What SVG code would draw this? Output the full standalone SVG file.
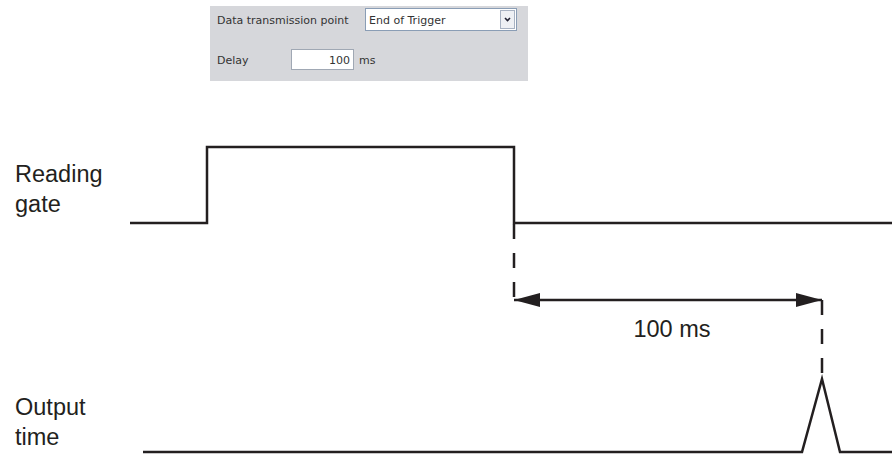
<svg xmlns="http://www.w3.org/2000/svg" width="892" height="457" viewBox="0 0 892 457">
<style>
.ui{font-family:"DejaVu Sans","Liberation Sans",sans-serif;font-size:11px;fill:#333}
.lbl{font-family:"Liberation Sans",Arial,sans-serif;font-size:23.5px;fill:#231f20}
.sig{fill:none;stroke:#231f20;stroke-width:2.5;stroke-linejoin:miter}
.dash{fill:none;stroke:#231f20;stroke-width:2.5;stroke-dasharray:15 14}
</style>
<defs>
<marker id="ah" viewBox="0 0 26 14" refX="26" refY="7" markerWidth="26" markerHeight="14" markerUnits="userSpaceOnUse" orient="auto-start-reverse">
<path d="M0,0 L26,7 L0,14 Z" fill="#231f20"/>
</marker>
</defs>
<rect width="892" height="457" fill="#fff"/>
<g id="panel">
<rect x="210" y="6" width="318" height="75" fill="#d6d7db"/>
<text class="ui" x="217" y="24">Data transmission point</text>
<rect x="365.5" y="8.5" width="151" height="22" fill="#fff" stroke="#8a9db5"/>
<text class="ui" x="369" y="24">End of Trigger</text>
<rect x="500.5" y="10.5" width="14" height="18" fill="#eef0f4" stroke="#a8b2c2"/>
<path d="M505,18 L507.5,20.5 L510,18" fill="none" stroke="#223" stroke-width="1.6"/>
<text class="ui" x="217" y="64">Delay</text>
<rect x="291.5" y="49.5" width="62" height="20" fill="#fff" stroke="#a0a8b4"/>
<text class="ui" x="350" y="64" text-anchor="end">100</text>
<text class="ui" x="359" y="64">ms</text>
</g>
<g id="reading-gate">
<text class="lbl" x="15" y="182">Reading</text>
<text class="lbl" x="15" y="212">gate</text>
<path class="sig" d="M130,223 H207 V147 H514 V223 H892"/>
</g>
<g id="output-time">
<text class="lbl" x="15" y="415">Output</text>
<text class="lbl" x="15" y="445">time</text>
<path class="sig" d="M143,452 H802 L822,379 L840,452 H892"/>
</g>
<g id="connectors">
<line class="dash" x1="514" y1="224" x2="514" y2="303"/>
<line class="dash" x1="822" y1="300" x2="822" y2="378"/>
<line x1="514" y1="300" x2="822" y2="300" stroke="#231f20" stroke-width="2.5" marker-start="url(#ah)" marker-end="url(#ah)"/>
<text class="lbl" x="672" y="337" text-anchor="middle">100 ms</text>
</g>
</svg>
